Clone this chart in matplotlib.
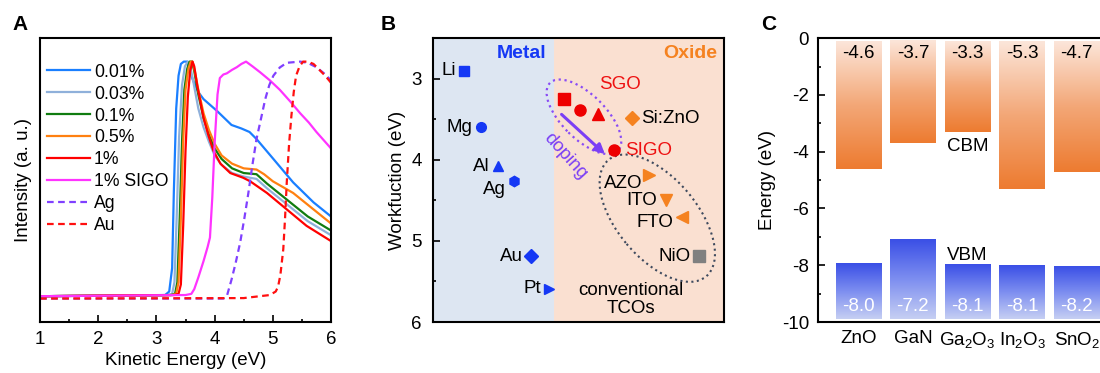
import numpy as np
import matplotlib
matplotlib.use('Agg')
import matplotlib.pyplot as plt
from matplotlib.patches import Ellipse
from matplotlib.transforms import ScaledTranslation
from matplotlib.colors import LinearSegmentedColormap

plt.rcParams['font.family'] = ['Liberation Sans', 'DejaVu Sans']
plt.rcParams['mathtext.fontset'] = 'custom'
plt.rcParams['mathtext.rm'] = 'Liberation Sans'
plt.rcParams['mathtext.default'] = 'regular'
plt.rcParams['axes.unicode_minus'] = False
plt.rcParams['font.size'] = 13

# ---------------- panel A data: secondary electron cutoff spectra
e_001 = [1.0, 3.15, 3.22, 3.27, 3.30, 3.34, 3.38, 3.42, 3.47, 3.53, 3.57, 3.63, 3.72, 3.81, 4.04, 4.29, 4.46, 4.60, 4.72, 5.01, 5.35, 5.70, 6.0]
i_001 = [0.0, 0.005, 0.02, 0.12, 0.45, 0.80, 0.94, 0.99, 1.0, 1.0, 0.96, 0.92, 0.87, 0.84, 0.79, 0.73, 0.715, 0.70, 0.67, 0.585, 0.485, 0.40, 0.34]
e_003 = [1.0, 3.20, 3.27, 3.31, 3.35, 3.39, 3.44, 3.49, 3.54, 3.58, 3.63, 3.72, 3.81, 3.90, 4.00, 4.12, 4.30, 4.50, 4.72, 4.90, 5.25, 5.60, 6.0]
i_003 = [0.0, 0.005, 0.01, 0.06, 0.35, 0.68, 0.90, 0.98, 1.0, 0.98, 0.92, 0.80, 0.72, 0.66, 0.60, 0.56, 0.525, 0.51, 0.50, 0.46, 0.39, 0.32, 0.26]
e_01 = [1.0, 3.25, 3.32, 3.36, 3.40, 3.44, 3.48, 3.53, 3.57, 3.61, 3.65, 3.72, 3.81, 3.90, 4.00, 4.12, 4.30, 4.50, 4.72, 4.90, 5.25, 5.60, 6.0]
i_01 = [0.0, 0.005, 0.01, 0.06, 0.33, 0.66, 0.88, 0.97, 1.0, 1.0, 0.96, 0.86, 0.76, 0.69, 0.63, 0.585, 0.545, 0.525, 0.52, 0.48, 0.41, 0.34, 0.28]
e_05 = [1.0, 3.27, 3.34, 3.38, 3.42, 3.46, 3.50, 3.55, 3.59, 3.62, 3.66, 3.72, 3.81, 3.90, 4.00, 4.12, 4.30, 4.50, 4.72, 4.85, 5.00, 5.35, 5.70, 6.0]
i_05 = [0.0, 0.005, 0.01, 0.06, 0.33, 0.66, 0.88, 0.97, 1.0, 1.0, 0.96, 0.88, 0.78, 0.71, 0.65, 0.60, 0.565, 0.545, 0.54, 0.52, 0.49, 0.44, 0.37, 0.31]
e_1 = [1.0, 3.30, 3.38, 3.42, 3.46, 3.50, 3.54, 3.58, 3.62, 3.65, 3.70, 3.81, 3.90, 3.98, 4.10, 4.27, 4.49, 4.61, 4.90, 5.24, 5.58, 6.0]
i_1 = [0.0, 0.005, 0.01, 0.05, 0.30, 0.62, 0.85, 0.96, 1.0, 0.98, 0.90, 0.76, 0.68, 0.62, 0.565, 0.525, 0.505, 0.49, 0.44, 0.37, 0.30, 0.235]
e_sigo = [1.0, 3.50, 3.60, 3.65, 3.72, 3.81, 3.88, 3.92, 3.96, 4.00, 4.05, 4.09, 4.15, 4.21, 4.30, 4.38, 4.46, 4.54, 4.65, 4.78, 4.95, 5.12, 5.30, 5.47, 5.62, 5.75, 6.0]
i_sigo = [0.0, 0.005, 0.01, 0.03, 0.08, 0.15, 0.21, 0.25, 0.42, 0.65, 0.86, 0.93, 0.945, 0.95, 0.965, 0.976, 0.99, 1.0, 0.98, 0.955, 0.92, 0.88, 0.83, 0.78, 0.74, 0.70, 0.63]
e_ag = [1.0, 4.15, 4.21, 4.29, 4.36, 4.44, 4.51, 4.58, 4.65, 4.72, 4.80, 4.87, 4.94, 5.01, 5.12, 5.24, 5.47, 5.60, 5.75, 5.88, 6.0]
i_ag = [-0.01, -0.01, 0.0, 0.07, 0.14, 0.23, 0.33, 0.44, 0.56, 0.67, 0.76, 0.84, 0.90, 0.94, 0.975, 0.995, 1.0, 0.995, 0.976, 0.95, 0.92]
e_au = [1.0, 4.50, 4.95, 5.05, 5.09, 5.13, 5.18, 5.21, 5.24, 5.28, 5.32, 5.36, 5.40, 5.46, 5.52, 5.60, 5.70, 5.80, 5.90, 6.0]
i_au = [-0.01, -0.008, 0.005, 0.02, 0.04, 0.09, 0.20, 0.33, 0.485, 0.65, 0.77, 0.87, 0.94, 0.98, 1.0, 1.0, 0.99, 0.965, 0.94, 0.91]

spectra = [
    ('0.01%', e_001, i_001, '#1a7fff', '-'),
    ('0.03%', e_003, i_003, '#8fb0da', '-'),
    ('0.1%', e_01, i_01, '#107c10', '-'),
    ('0.5%', e_05, i_05, '#ff8010', '-'),
    ('1%', e_1, i_1, '#ff0000', '-'),
    ('1% SIGO', e_sigo, i_sigo, '#ff33ff', '-'),
    ('Ag', e_ag, i_ag, '#8040ff', '--'),
    ('Au', e_au, i_au, '#ff1010', '--'),
]

# ---------------- panel B data: work functions
metal_names = ['Li', 'Mg', 'Al', 'Ag', 'Au', 'Pt']
metal_wf = [2.9, 3.6, 4.08, 4.26, 5.19, 5.59]
metal_x = [1.08, 1.65, 2.22, 2.78, 3.37, 4.0]
metal_mk = ['s', 'o', '^', 'h', 'D', '>']
metal_off = [(-6, 0), (-6, 0), (-6, 0), (-6, -6), (-6, 0), (-6, 0)]

sgo_wf = [3.25, 3.38, 3.43]
sgo_x = [4.5, 5.07, 5.68]
sgo_mk = ['s', 'o', '^']
sigo_wf = 3.88
sigo_x = 6.23

tco_names = ['Si:ZnO', 'AZO', 'ITO', 'FTO', 'NiO']
tco_wf = [3.49, 4.19, 4.5, 4.7, 5.19]
tco_x = [6.83, 7.43, 8.0, 8.55, 9.15]
tco_mk = ['D', '>', 'v', '<', 's']
tco_col = ['#f58220', '#f58220', '#f58220', '#f58220', '#808080']

# ---------------- panel C data: band edges
materials = ['ZnO', 'GaN', 'Ga$_2$O$_3$', 'In$_2$O$_3$', 'SnO$_2$']
cbm = [-4.6, -3.7, -3.3, -5.3, -4.7]
cbm_text = ['-4.6', '-3.7', '-3.3', '-5.3', '-4.7']
vbm = [-7.93, -7.08, -7.97, -8.0, -8.02]
vbm_text = ['-8.0', '-7.2', '-8.1', '-8.1', '-8.2']

fig = plt.figure(figsize=(11, 3.73), dpi=100)
axA = fig.add_axes([0.0364, 0.1367, 0.2645, 0.761])
axB = fig.add_axes([0.3936, 0.1367, 0.2645, 0.761])
axC = fig.add_axes([0.7436, 0.1367, 0.26, 0.761])

for ax in (axA, axB, axC):
    for s in ax.spines.values():
        s.set_linewidth(1.5)
    ax.tick_params(which='major', direction='in', length=5, width=1.2, labelsize=13.5, pad=6.5)
    ax.tick_params(which='minor', direction='in', length=2.5, width=1.2)

# ---- A
for lab, e, i, c, ls in spectra:
    if ls == '--':
        axA.plot(e, i, ls, color=c, lw=1.6, label=lab, dashes=(3, 2))
    else:
        axA.plot(e, i, ls, color=c, lw=1.6, label=lab)
axA.set_xlim(1, 6)
axA.set_ylim(-0.11, 1.10)
axA.set_yticks([])
axA.set_xticks([1, 2, 3, 4, 5, 6])
axA.set_xticks(np.arange(1.5, 6, 1.0), minor=True)
axA.tick_params(axis='x', which='both', top=False)
axA.set_xlabel('Kinetic Energy (eV)', fontsize=13.5, labelpad=3)
axA.set_ylabel('Intensity (a. u.)', fontsize=13.5, labelpad=6)
axA.legend(loc='upper left', frameon=False, fontsize=12.7, handlelength=2.45,
           handletextpad=0.2, labelspacing=0.28, borderaxespad=0.0,
           bbox_to_anchor=(0.0, 0.935))
fig.text(0.011, 0.92, 'A', fontsize=15, fontweight='bold')

# ---- B
axB.set_xlim(0, 10)
axB.set_ylim(6, 2.5)
axB.axvspan(0, 4.16, color='#dde6f2', zorder=0, lw=0)
axB.axvspan(4.16, 10, color='#fae0d1', zorder=0, lw=0)
axB.set_xticks([])
axB.set_yticks([3, 4, 5, 6])
axB.set_yticks([3.5, 4.5, 5.5], minor=True)
axB.tick_params(axis='y', pad=8)
axB.set_ylabel('Workfuction (eV)', fontsize=13.5, labelpad=4)
blue = '#1538f5'
for n, x, w, m, off in zip(metal_names, metal_x, metal_wf, metal_mk, metal_off):
    axB.plot(x, w, m, color=blue, ms=7 if m not in ('D', 'h') else 7.5, zorder=3)
    axB.annotate(n, (x, w), xytext=off, textcoords='offset points',
                 ha='right', va='center', fontsize=13.5)
for x, w, m in zip(sgo_x, sgo_wf, sgo_mk):
    axB.plot(x, w, m, color='#ee0000', ms=8, zorder=3)
axB.plot(sigo_x, sigo_wf, 'o', color='#ee0000', ms=8, zorder=3)
axB.annotate('SIGO', (sigo_x, sigo_wf), xytext=(8, 0), textcoords='offset points',
             ha='left', va='center', fontsize=13.5, color='#ee1111')
axB.text(6.43, 3.07, 'SGO', ha='center', va='center', fontsize=13.5, color='#ee1111')
tco_off = [(7, 0, 'left'), (-5, -6, 'right'), (-6, 0, 'right'), (-6, -4, 'right'), (-6, 0, 'right')]
for n, x, w, m, c, (dx, dy, ha) in zip(tco_names, tco_x, tco_wf, tco_mk, tco_col, tco_off):
    axB.plot(x, w, m, color=c, ms=8 if m != 'D' else 7, zorder=3)
    axB.annotate(n, (x, w), xytext=(dx, dy), textcoords='offset points',
                 ha=ha, va='center', fontsize=13.5)
axB.text(3.05, 2.69, 'Metal', ha='center', va='center', fontsize=14,
         fontweight='bold', color=blue)
axB.text(8.86, 2.69, 'Oxide', ha='center', va='center', fontsize=14,
         fontweight='bold', color='#f58220')
axB.text(6.8, 5.72, 'conventional\nTCOs', ha='center', va='center', fontsize=13.5,
         linespacing=1.05)
purple = '#7b3ff5'
axB.annotate('', xy=(5.91, 3.93), xytext=(4.42, 3.44),
             arrowprops=dict(arrowstyle='-|>', color=purple, lw=2.2,
                             mutation_scale=14, shrinkA=0, shrinkB=0))
axB.text(4.56, 3.95, 'doping', rotation=-48, ha='center', va='center',
         fontsize=13.5, color=purple, rotation_mode='anchor')
e1 = Ellipse((0, 0), 0.96, 0.44, angle=-45, fill=False, ls=':', lw=1.6, ec='#8a4cf5',
             transform=fig.dpi_scale_trans + ScaledTranslation(5.19, 3.47, axB.transData))
e2 = Ellipse((0, 0), 1.52, 0.80, angle=-50, fill=False, ls=':', lw=1.5, ec='#3e4a5e',
             transform=fig.dpi_scale_trans + ScaledTranslation(7.71, 4.72, axB.transData))
axB.add_patch(e1)
axB.add_patch(e2)
fig.text(0.346, 0.92, 'B', fontsize=15, fontweight='bold')

# ---- C
cmap_c = LinearSegmentedColormap.from_list('cbm', ['#ed7b30', '#f3a777', '#fce6da'])
cmap_v = LinearSegmentedColormap.from_list('vbm', ['#c6cff3', '#7d8ef0', '#3a4fe6'])
grad = np.linspace(0, 1, 256).reshape(-1, 1)
w = 0.83
top_c = -0.1
bot_v = -9.88
for k, (c, v) in enumerate(zip(cbm, vbm)):
    axC.imshow(grad, extent=[k - w / 2, k + w / 2, c, top_c], origin='lower',
               cmap=cmap_c, aspect='auto', zorder=1)
    axC.imshow(grad, extent=[k - w / 2, k + w / 2, bot_v, v], origin='lower',
               cmap=cmap_v, aspect='auto', zorder=1)
    axC.text(k, -0.55, cbm_text[k], ha='center', va='center', fontsize=13.5)
    axC.text(k, -9.45, vbm_text[k], ha='center', va='center', fontsize=13.5, color='white')
axC.text(2.0, -3.83, 'CBM', ha='center', va='center', fontsize=13.5)
axC.text(2.0, -7.64, 'VBM', ha='center', va='center', fontsize=13.5)
axC.set_xlim(-0.74, 4.5)
axC.set_ylim(-10, 0)
axC.set_xticks(range(len(materials)))
axC.set_xticklabels(materials)
axC.tick_params(axis='x', length=0, pad=6)
axC.set_yticks(np.arange(-10, 1, 2))
axC.set_yticks(np.arange(-9, 0, 2), minor=True)
axC.set_ylabel('Energy (eV)', fontsize=13.5, labelpad=4)
fig.text(0.692, 0.92, 'C', fontsize=15, fontweight='bold')

fig.savefig('out.png', dpi=100)
